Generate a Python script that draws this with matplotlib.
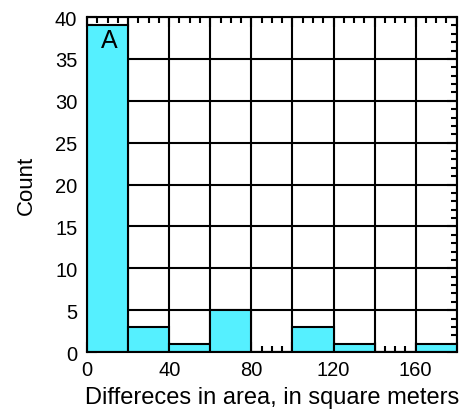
import matplotlib.pyplot as plt
import numpy as np
from matplotlib.ticker import MultipleLocator

plt.rcParams['font.family'] = ['Liberation Sans', 'DejaVu Sans']

# histogram bins (square meters) and counts
bin_edges = [0, 20, 40, 60, 80, 100, 120, 140, 160, 180]
counts = [39, 3, 1, 5, 0, 3, 1, 0, 1]

fig = plt.figure(figsize=(4.68, 4.10), dpi=100)
ax = fig.add_axes([0.186, 0.139, 0.79, 0.817])

lefts = np.array(bin_edges[:-1])
widths = np.diff(bin_edges)
ax.bar(lefts, counts, width=widths, align='edge', color='#55F0FF',
       edgecolor='black', linewidth=1.5, zorder=2)

ax.set_xlim(0, 180)
ax.set_ylim(0, 40)

xt = np.arange(0, 181, 20)
ax.set_xticks(xt)
ax.set_xticklabels([str(v) if v % 40 == 0 else '' for v in xt])
ax.xaxis.set_minor_locator(MultipleLocator(5))
ax.set_yticks(np.arange(0, 41, 5))
ax.yaxis.set_minor_locator(MultipleLocator(1))

ax.grid(True, which='major', color='black', linewidth=1.5, zorder=1)
ax.set_axisbelow(True)

ax.tick_params(which='both', direction='in', top=True, right=True,
               labelsize=14.5, width=1.5)
ax.tick_params(axis='x', which='major', pad=6)
ax.tick_params(axis='y', which='major', pad=7)
ax.tick_params(which='major', length=7)
ax.tick_params(which='minor', length=4)
for s in ax.spines.values():
    s.set_linewidth(1.5)
    s.set_zorder(3)

ax.set_xlabel('Differeces in area, in square meters', fontsize=17, labelpad=5)
ax.set_ylabel('Count', fontsize=16, labelpad=13)

ax.text(11, 37.2, 'A', fontsize=18, ha='center', va='center', zorder=4)

fig.savefig('out.png', dpi=100)
